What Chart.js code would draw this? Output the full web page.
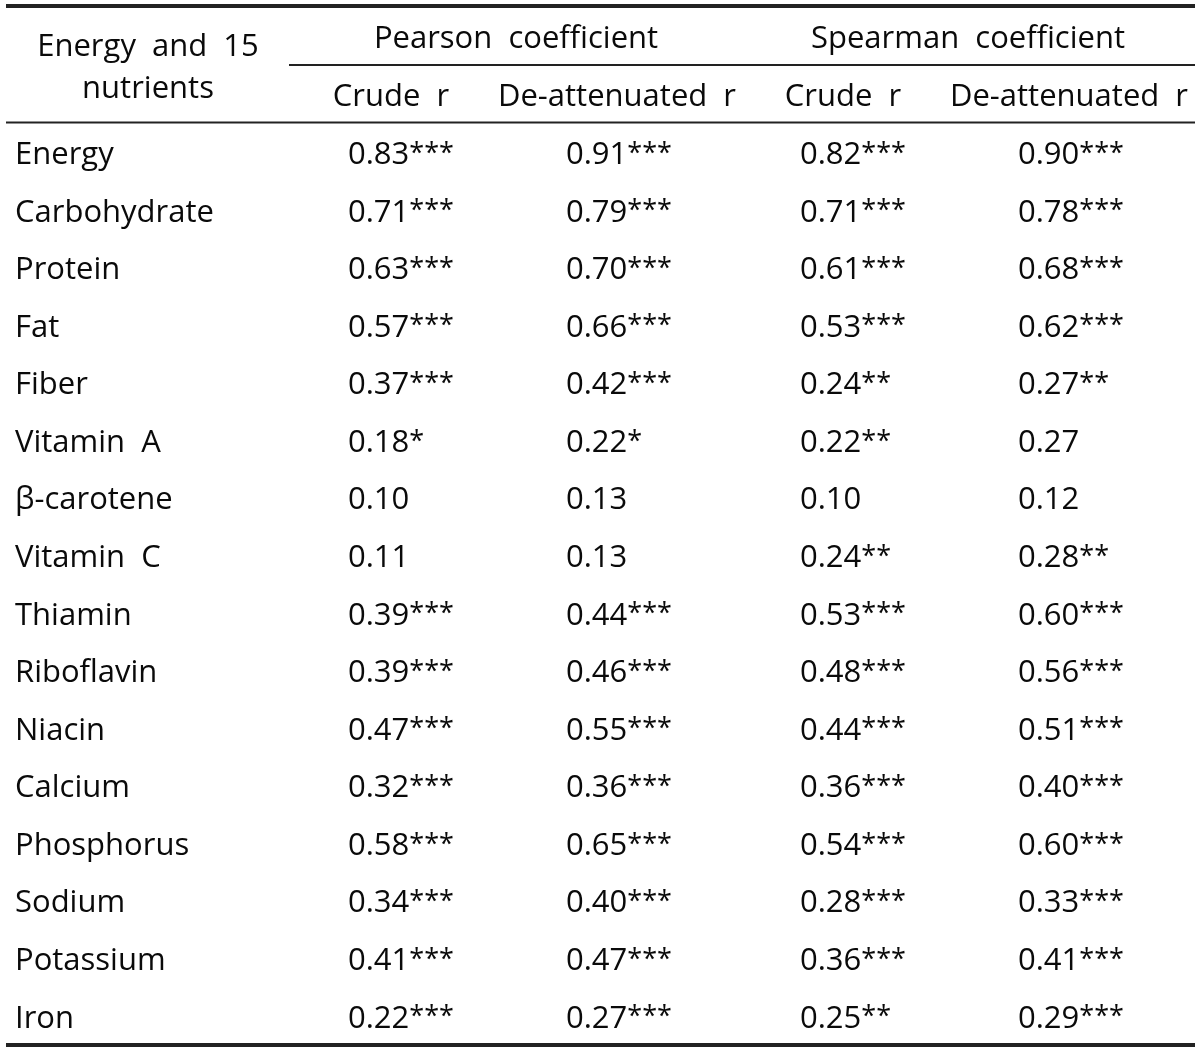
<!DOCTYPE html>
<html lang="en">
  <head>
    <meta charset="UTF-8">
    <title>Energy and 15 nutrients correlation table</title>
    <script src="https://cdn.jsdelivr.net/npm/chart.js@4.4.7/dist/chart.umd.min.js"></script>
    <style>
    body {
      margin: 0;
      background: #fff;
    }
    canvas {
      display: block;
    }
    </style>
  </head>
  <body>
    <canvas id="tableChart" width="1200" height="1051"></canvas>
    <script>
    const nutrients = ['Energy', 'Carbohydrate', 'Protein', 'Fat', 'Fiber', 'Vitamin  A', '\u03B2-carotene',
      'Vitamin  C', 'Thiamin', 'Riboflavin', 'Niacin', 'Calcium', 'Phosphorus', 'Sodium', 'Potassium', 'Iron'];
    const columns = ['Crude  r', 'De-attenuated  r', 'Crude  r ', 'De-attenuated  r '];
    const groups = ['Pearson  coefficient', 'Spearman  coefficient'];
    const rowHeader = ['Energy  and  15', 'nutrients'];

    const pearsonCrude = [0.83, 0.71, 0.63, 0.57, 0.37, 0.18, 0.10, 0.11, 0.39, 0.39, 0.47, 0.32, 0.58, 0.34, 0.41, 0.22];
    const pearsonCrudeSig = ['***', '***', '***', '***', '***', '*', '', '', '***', '***', '***', '***', '***', '***', '***', '***'];
    const pearsonDeatt = [0.91, 0.79, 0.70, 0.66, 0.42, 0.22, 0.13, 0.13, 0.44, 0.46, 0.55, 0.36, 0.65, 0.40, 0.47, 0.27];
    const pearsonDeattSig = ['***', '***', '***', '***', '***', '*', '', '', '***', '***', '***', '***', '***', '***', '***', '***'];
    const spearmanCrude = [0.82, 0.71, 0.61, 0.53, 0.24, 0.22, 0.10, 0.24, 0.53, 0.48, 0.44, 0.36, 0.54, 0.28, 0.36, 0.25];
    const spearmanCrudeSig = ['***', '***', '***', '***', '**', '**', '', '**', '***', '***', '***', '***', '***', '***', '***', '**'];
    const spearmanDeatt = [0.90, 0.78, 0.68, 0.62, 0.27, 0.27, 0.12, 0.28, 0.60, 0.56, 0.51, 0.40, 0.60, 0.33, 0.41, 0.29];
    const spearmanDeattSig = ['***', '***', '***', '***', '**', '', '', '**', '***', '***', '***', '***', '***', '***', '***', '***'];

    const seriesValues = [pearsonCrude, pearsonDeatt, spearmanCrude, spearmanDeatt];
    const seriesSig = [pearsonCrudeSig, pearsonDeattSig, spearmanCrudeSig, spearmanDeattSig];

    const FONT = '500 31px "Open Sans", "Noto Sans", sans-serif';
    const STAR_FONT = '500 27px "Open Sans", "Noto Sans", sans-serif';
    const INK = '#0a0a0a';
    // value text starts a bit left of each column centre
    const valueShift = [-43, -51, -43, -51];

    const tablePlugin = {
      id: 'tableText',
      afterDraw(chart) {
        const ctx = chart.ctx;
        const xs = chart.scales.x;
        const ys = chart.scales.y;
        const area = chart.chartArea;
        ctx.save();
        ctx.fillStyle = INK;
        ctx.strokeStyle = '#222';

        // rules
        ctx.lineWidth = 4;
        ctx.beginPath();
        ctx.moveTo(6, 6); ctx.lineTo(1195, 6);
        ctx.moveTo(6, area.bottom); ctx.lineTo(1195, area.bottom);
        ctx.stroke();
        ctx.lineWidth = 2;
        ctx.beginPath();
        ctx.moveTo(6, area.top - 1.5); ctx.lineTo(1195, area.top - 1.5);
        ctx.moveTo(289, 65); ctx.lineTo(1195, 65);
        ctx.stroke();

        // header text
        ctx.font = FONT;
        ctx.textBaseline = 'middle';
        ctx.textAlign = 'center';
        ctx.fillText(rowHeader[0], 148, 47);
        ctx.fillText(rowHeader[1], 148, 89);
        groups.forEach((g, i) => {
          const cx = (xs.getPixelForValue(i * 2) + xs.getPixelForValue(i * 2 + 1)) / 2 + 12;
          ctx.fillText(g, cx, 39);
        });
        columns.forEach((c, i) => {
          ctx.fillText(c.trim(), xs.getPixelForValue(i), 97);
        });

        // row labels
        ctx.textAlign = 'left';
        nutrients.forEach((n, i) => {
          ctx.fillText(n, 15, ys.getPixelForValue(i) + 2.5);
        });

        // cells
        chart.data.datasets.forEach((ds, di) => {
          const meta = chart.getDatasetMeta(di);
          meta.data.forEach((pt, i) => {
            const txt = seriesValues[di][i].toFixed(2);
            const x0 = pt.x + valueShift[di];
            ctx.font = FONT;
            ctx.fillText(txt, x0, pt.y + 2.5);
            const w = ctx.measureText(txt).width;
            ctx.font = STAR_FONT;
            ctx.fillText(seriesSig[di][i], x0 + w, pt.y + 1.3);
          });
        });
        ctx.restore();
      }
    };

    const ctx = document.getElementById('tableChart').getContext('2d');
    const tableChart = new Chart(ctx, {
      type: 'scatter',
      data: {
        datasets: seriesValues.map((vals, di) => ({
          label: columns[di],
          data: vals.map((v, i) => ({ x: columns[di], y: nutrients[i] })),
          pointRadius: 0,
          pointHoverRadius: 0
        }))
      },
      options: {
        responsive: false,
        animation: false,
        events: [],
        layout: {
          padding: { left: 278, right: 18, top: 124, bottom: 6 }
        },
        plugins: {
          legend: { display: false },
          tooltip: { enabled: false }
        },
        scales: {
          x: {
            type: 'category',
            labels: columns,
            offset: true,
            display: false
          },
          y: {
            type: 'category',
            labels: nutrients,
            offset: true,
            display: false
          }
        }
      },
      plugins: [tablePlugin]
    });
    </script>
  </body>
</html>
